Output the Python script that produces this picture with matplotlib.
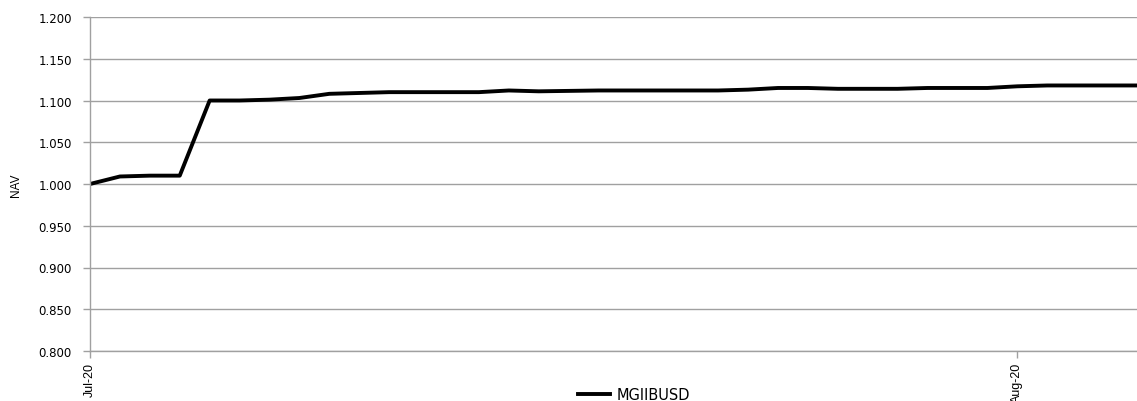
import numpy as np
import pandas as pd
import matplotlib
matplotlib.use('Agg')
import matplotlib.pyplot as plt

# valeurs NAV journalieres, du 1er juillet au 5 aout 2020
dates = pd.date_range('2020-07-01', '2020-08-05', freq='D')
nav = [1.000, 1.009, 1.010, 1.010, 1.100, 1.100, 1.101, 1.103, 1.108, 1.109,
       1.110, 1.110, 1.110, 1.110, 1.112, 1.111, 1.1115, 1.112, 1.112, 1.112,
       1.112, 1.112, 1.113, 1.115, 1.115, 1.114, 1.114, 1.114, 1.115, 1.115,
       1.115, 1.117, 1.118, 1.118, 1.118, 1.118]
serie = 'MGIIBUSD'
yticks = np.arange(0.800, 1.2001, 0.050)
xtick_dates = pd.to_datetime(['2020-07-01', '2020-08-01'])
xtick_labels = ['Jul-20', 'Aug-20']

fig = plt.figure(figsize=(11.37, 4.02), dpi=100)
ax = fig.add_axes([90/1137, 1-352/402, 1047/1137, 334/402])

ax.plot(dates, nav, color='black', lw=2.8, label=serie, solid_joinstyle='round')

ax.set_ylim(0.8, 1.2)
ax.set_yticks(yticks)
ax.set_yticklabels(['%.3f' % v for v in yticks], fontsize=8.5)
ax.set_xlim(dates[0], dates[-1])
ax.set_xticks(xtick_dates)
ax.set_xticklabels(xtick_labels, rotation=90, fontsize=9, family='Liberation Sans')
ax.set_ylabel('NAV', fontsize=8.5, family='Liberation Sans')
ax.yaxis.set_label_coords(-68/1047, 0.5)

ax.grid(axis='y', color='#a0a0a0', lw=1)
ax.set_axisbelow(True)
for s in ['top', 'right']:
    ax.spines[s].set_visible(False)
for s in ['left', 'bottom']:
    ax.spines[s].set_color('#a0a0a0')
    ax.spines[s].set_linewidth(1)
ax.tick_params(axis='both', color='#a0a0a0', length=5, width=1)
ax.tick_params(axis='y', pad=8)
ax.tick_params(axis='x', pad=3)

fig.legend(loc='center', bbox_to_anchor=(634/1137, 1-396/402), frameon=False,
           fontsize=10.5, handlelength=2.2, handletextpad=0.4)

fig.savefig('out.png', dpi=100)
